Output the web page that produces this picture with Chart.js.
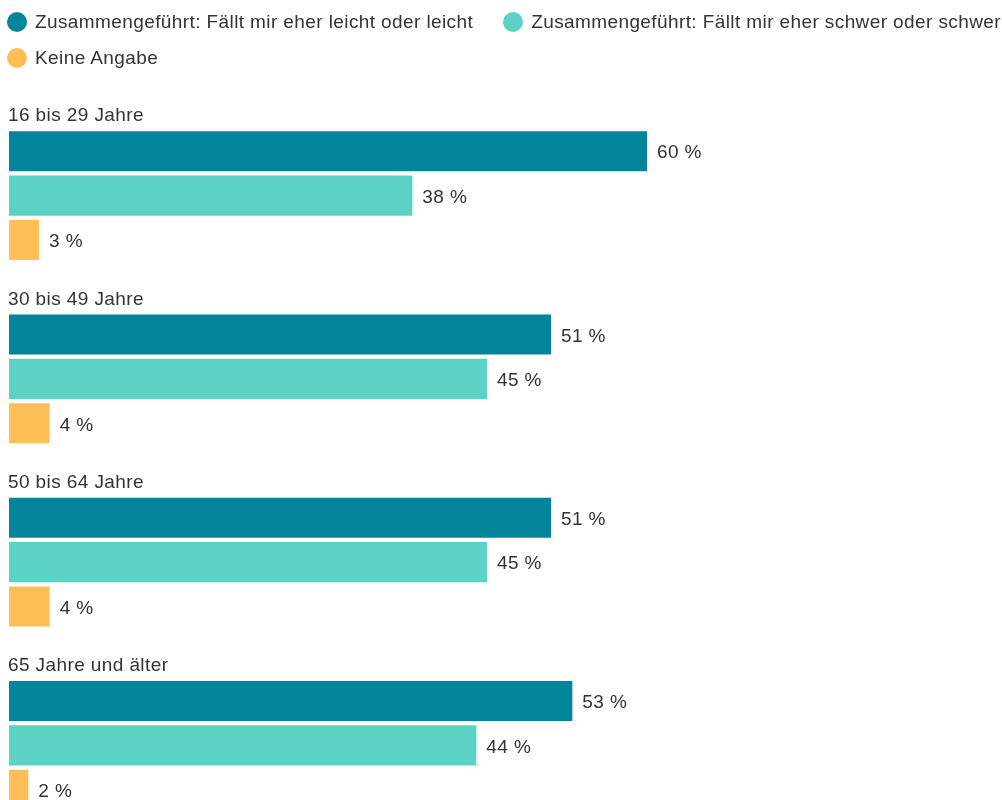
<!DOCTYPE html>
<html lang="de">
<head>
<meta charset="utf-8">
<title>Altersgruppen</title>
<script src="https://cdn.jsdelivr.net/npm/chart.js@4.4.1/dist/chart.umd.min.js"></script>
<style>
  html, body { margin: 0; padding: 0; background: #fff; overflow: hidden; }
  #wrap { position: relative; width: 1002px; height: 800px; overflow: hidden; }
  #chart { display: block; }
  #legend {
    position: absolute; top: 4px; left: 7px; width: 1040px;
    display: flex; flex-wrap: wrap;
    font: 19px "Liberation Sans", Arial, sans-serif; letter-spacing: 0.4px; color: #333;
  }
  #legend .item { display: flex; align-items: center; height: 36px; margin-right: 30px; white-space: nowrap; }
  #legend .dot { width: 20px; height: 20px; border-radius: 50%; margin-right: 8px; flex: none; }
</style>
</head>
<body>
<div id="wrap">
  <!-- canvas runs past the bottom edge; the last group is cut off by the frame -->
  <canvas id="chart" width="1002" height="837"></canvas>
  <div id="legend"></div>
</div>
<script>
const categories = ['16 bis 29 Jahre', '30 bis 49 Jahre', '50 bis 64 Jahre', '65 Jahre und älter'];
const seriesNames = [
  'Zusammengeführt: Fällt mir eher leicht oder leicht',
  'Zusammengeführt: Fällt mir eher schwer oder schwer',
  'Keine Angabe'
];
const easyValues = [60, 51, 51, 53];
const hardValues = [38, 45, 45, 44];
const noAnswerValues = [3, 4, 4, 2];
const seriesColors = ['#02849a', '#5cd2c4', '#ffbf56'];

const FONT = '19px "Liberation Sans", Arial, sans-serif';

// legend as html list, built from the chart's own legend items
const htmlLegend = {
  id: 'htmlLegend',
  afterUpdate(chart) {
    const box = document.getElementById('legend');
    box.innerHTML = '';
    const items = chart.options.plugins.legend.labels.generateLabels(chart);
    items.forEach(item => {
      const el = document.createElement('div');
      el.className = 'item';
      const dot = document.createElement('span');
      dot.className = 'dot';
      dot.style.background = item.fillStyle;
      const txt = document.createElement('span');
      txt.textContent = item.text;
      el.appendChild(dot);
      el.appendChild(txt);
      box.appendChild(el);
    });
  }
};

// value labels right of each bar + group titles above each group
const barText = {
  id: 'barText',
  afterDatasetsDraw(chart) {
    const ctx = chart.ctx;
    ctx.save();
    ctx.font = FONT;
    ctx.letterSpacing = '0.4px';
    ctx.fillStyle = '#333';
    ctx.textBaseline = 'middle';
    ctx.textAlign = 'left';
    chart.data.datasets.forEach((ds, i) => {
      chart.getDatasetMeta(i).data.forEach((bar, j) => {
        ctx.fillText(ds.data[j] + ' %', bar.x + 9, bar.y + 2);
      });
    });
    chart.getDatasetMeta(0).data.forEach((bar, j) => {
      ctx.fillText(chart.data.labels[j], 8, bar.y - bar.height / 2 - 14);
    });
    ctx.restore();
  }
};

const datasets = [easyValues, hardValues, noAnswerValues].map((values, i) => ({
  label: seriesNames[i],
  data: values,
  backgroundColor: seriesColors[i],
  borderColor: 'rgba(255,255,255,0.5)',
  borderWidth: 1,
  borderSkipped: false,
  categoryPercentage: 0.7268,
  barPercentage: 0.95
}));

new Chart(document.getElementById('chart'), {
  type: 'bar',
  data: { labels: categories, datasets: datasets },
  options: {
    indexAxis: 'y',
    responsive: false,
    animation: false,
    layout: { padding: { left: 8, right: 2, top: 104, bottom: 0 } },
    scales: {
      x: { min: 0, max: 93, display: false },
      y: { display: false }
    },
    plugins: {
      legend: { display: false },
      tooltip: { enabled: false }
    }
  },
  plugins: [htmlLegend, barText]
});
</script>
</body>
</html>
